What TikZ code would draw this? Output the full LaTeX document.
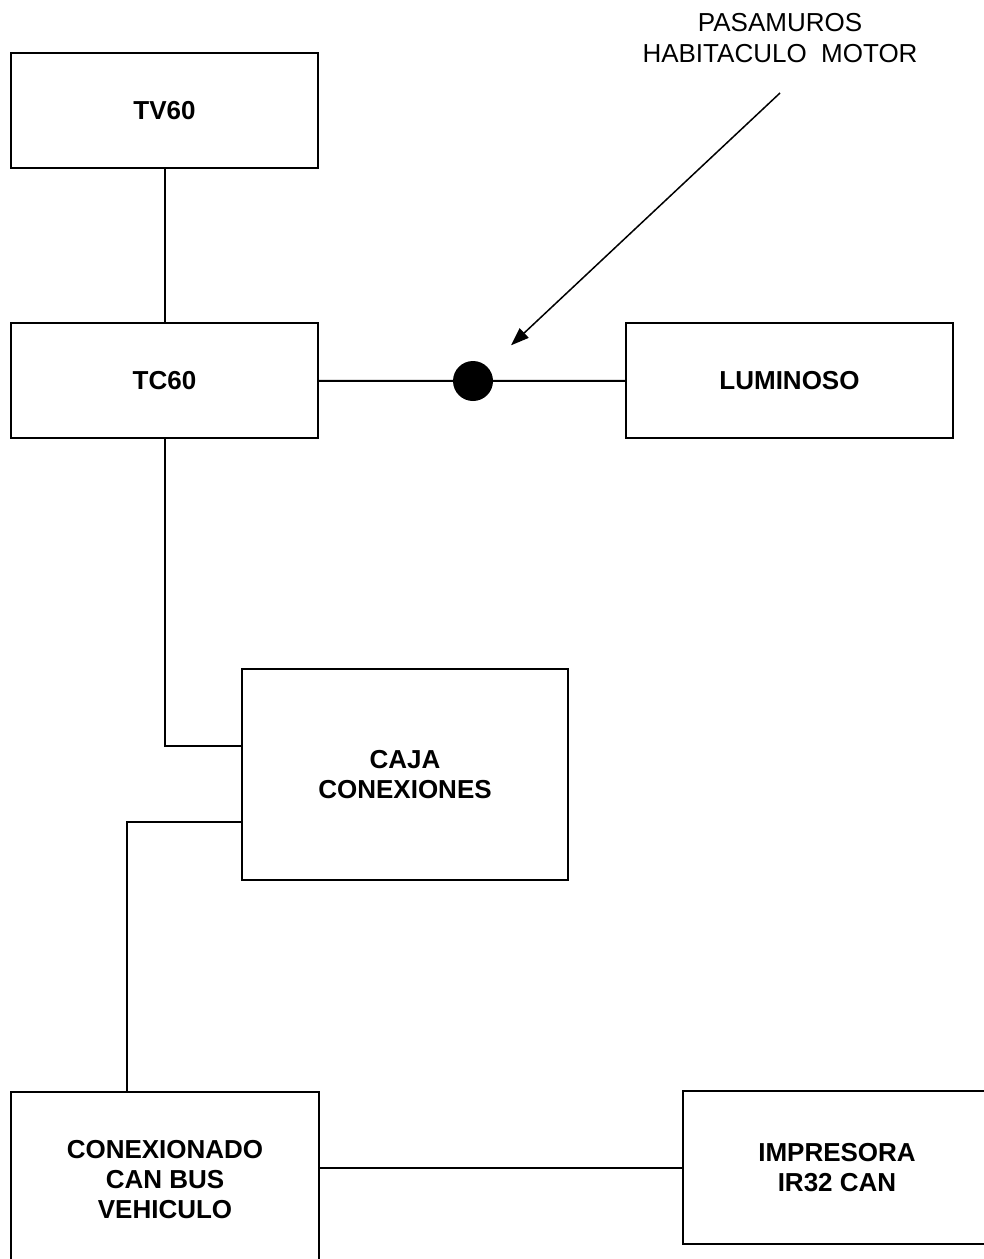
\documentclass[tikz,border=0pt]{standalone}
\usepackage{fontspec}
\setmainfont{Liberation Sans}
\usetikzlibrary{arrows.meta}

\tikzset{
    box/.style={draw, line width=2pt, inner sep=0pt, align=center,
        font=\fontsize{26}{30}\selectfont\bfseries},
    wire/.style={line width=2pt},
}

\begin{document}
\begin{tikzpicture}[x=1pt, y=-1pt]
        \clip (0,0) rectangle (984,1259);
        \fill[white] (0,0) rectangle (984,1259);

        % cajas
        \node[box, minimum width=307pt, minimum height=115pt] (tv) at (164.5,110.5) {TV60};
        \node[box, minimum width=307pt, minimum height=115pt] (tc) at (164.5,380.5) {TC60};
        \node[box, minimum width=327pt, minimum height=115pt] (lum) at (789.5,380.5) {LUMINOSO};
        \node[box, minimum width=326pt, minimum height=211pt] (caja) at (405,774.5) {CAJA\\CONEXIONES};
        \node[box, minimum width=308pt, minimum height=176pt] (con) at (165,1180) {CONEXIONADO\\CAN BUS\\VEHICULO};
        \node[box, minimum width=308pt, minimum height=153pt] (imp) at (837,1167.5) {IMPRESORA\\IR32 CAN};

        % pasamuros
        \node[circle, fill, minimum size=40pt, inner sep=0pt] (pas) at (473,381) {};
        \node[align=center, font=\fontsize{26}{31}\selectfont] (lbl) at (780,38) {PASAMUROS\\HABITACULO\ \ MOTOR};
        \coordinate (lblA) at (780,93);

        \coordinate (cajaA) at (242,746);
        \coordinate (cajaB) at (242,822);
        \coordinate (conA) at (127,1092);
        \coordinate (conB) at (319,1168);

        \draw[wire] (tv) -- (tc);
        \draw[wire] (tc) -- (pas) -- (lum);
        \draw[wire] (tc.south) |- (cajaA);
        \draw[wire] (cajaB) -| (conA);
        \draw[wire] (conB) -- (conB -| imp.west);
        \draw[line width=1.5pt, -{Triangle[length=18pt,width=13pt]}, shorten >=32pt] (lblA) -- (pas);
    \end{tikzpicture}
\end{document}
